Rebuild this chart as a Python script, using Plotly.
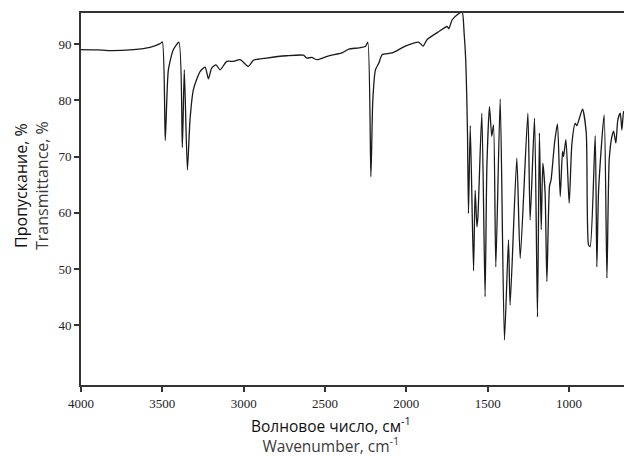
import plotly.graph_objects as go

wavenumber = [4000, 3900, 3822, 3678, 3576, 3514, 3500, 3482, 3463, 3432, 3398, 3377, 3365, 3346,
              3330, 3309, 3268, 3237, 3217, 3197, 3170, 3145, 3104, 3063, 3022, 2971, 2940, 2858,
              2735, 2633, 2612, 2581, 2549, 2477, 2395, 2354, 2292, 2251, 2237, 2218, 2206, 2190,
              2169, 2149, 2088, 2006, 1923, 1897, 1872, 1800, 1749, 1739, 1718, 1677, 1657, 1645,
              1635, 1629, 1624, 1618, 1607, 1587, 1577, 1566, 1560, 1536, 1516, 1505, 1489, 1475,
              1464, 1450, 1423, 1397, 1372, 1362, 1321, 1300, 1253, 1239, 1212, 1194, 1182, 1171,
              1161, 1147, 1136, 1120, 1110, 1089, 1071, 1054, 1040, 1034, 1019, 999, 982, 962,
              952, 917, 894, 880, 870, 839, 829, 818, 784, 767, 753, 736, 726, 712, 700, 685,
              675, 665, 662]
transmittance = [89.0, 88.95, 88.8, 89.0, 89.4, 90.05, 90.35, 72.85, 85.4, 89.0, 90.3, 71.6, 85.4, 67.6,
                 76.5, 81.9, 85.1, 85.9, 83.8, 85.7, 86.3, 85.4, 86.9, 86.9, 87.2, 86.0, 87.1, 87.5,
                 87.9, 88.0, 87.5, 87.6, 87.2, 87.9, 88.4, 89.1, 89.3, 89.6, 90.3, 66.4, 80.1, 85.4,
                 86.6, 88.1, 88.4, 89.6, 90.3, 89.6, 90.8, 92.2, 93.1, 92.7, 94.3, 95.4, 95.7, 92.0,
                 87.2, 81.0, 73.9, 59.9, 75.5, 49.7, 64.0, 57.5, 59.3, 77.7, 45.1, 68.2, 78.9, 73.6,
                 75.6, 50.4, 80.2, 37.4, 55.2, 43.6, 69.7, 51.9, 77.7, 58.7, 76.8, 41.5, 74.2, 57.0,
                 68.8, 63.5, 47.8, 64.7, 65.9, 72.4, 75.8, 62.9, 70.9, 70.0, 73.0, 61.7, 72.4, 75.9,
                 75.5, 78.4, 74.2, 54.3, 54.0, 73.7, 50.4, 64.1, 77.4, 48.4, 69.4, 73.6, 74.5, 72.4, 76.5, 77.7,
                 74.7, 78.0, 77.6]

x_ticks = [4000, 3500, 3000, 2500, 2000, 1500, 1000]
y_ticks = [40, 50, 60, 70, 80, 90]

y_title_ru = "Пропускание, %"
y_title_en = "Transmittance, %"
x_title_ru = "Волновое число, см<sup>-1</sup>"
x_title_en = "Wavenumber, cm<sup>-1</sup>"

fig = go.Figure(go.Scatter(
    x=wavenumber, y=transmittance, mode="lines",
    line=dict(color="#1a1a1a", width=1.3, shape="spline", smoothing=0.6),
    hoverinfo="skip"))

tick_font = dict(family="Liberation Serif", size=13, color="#222")
title_font = "Open Sans"

y_title = (f"<span style='color:#111'>{y_title_ru}</span><br>"
           f"<span style='color:#3a3a3a'>{y_title_en}</span>")
x_title = (f"<span style='color:#111'>{x_title_ru}</span><br>"
           f"<span style='color:#3a3a3a'>{x_title_en}</span>")

fig.update_layout(
    width=624, height=456,
    margin=dict(l=81, r=0, t=13, b=71, autoexpand=False),
    plot_bgcolor="white", paper_bgcolor="white",
    showlegend=False,
    hovermode=False,
    xaxis=dict(range=[4000, 662], autorange=False, tickvals=x_ticks,
               ticks="outside", ticklen=5, tickwidth=2, tickcolor="#333",
               showline=True, linecolor="#333", linewidth=2, mirror=True,
               showgrid=False, zeroline=False, tickfont=tick_font),
    yaxis=dict(range=[29.4, 95.5], autorange=False, tickvals=y_ticks,
               ticks="outside", ticklen=5, tickwidth=2, tickcolor="#333",
               showline=True, linecolor="#333", linewidth=2, mirror=False,
               showgrid=False, zeroline=False, tickfont=tick_font),
    annotations=[
        dict(text=y_title, xref="paper", yref="paper", x=0, y=0.5, xanchor="center", yanchor="middle",
             xshift=-50, yshift=13, textangle=-90, showarrow=False, align="center",
             font=dict(family=title_font, size=16, color="#111")),
        dict(text=x_title, xref="paper", yref="paper", x=0, y=0, xanchor="center", yanchor="middle",
             xshift=250, yshift=-50, showarrow=False, align="center",
             font=dict(family=title_font, size=15.5, color="#111")),
    ],
)

fig.write_html("out.html", config={"displayModeBar": False, "staticPlot": True},
               post_script="document.body.style.margin='0px';")
